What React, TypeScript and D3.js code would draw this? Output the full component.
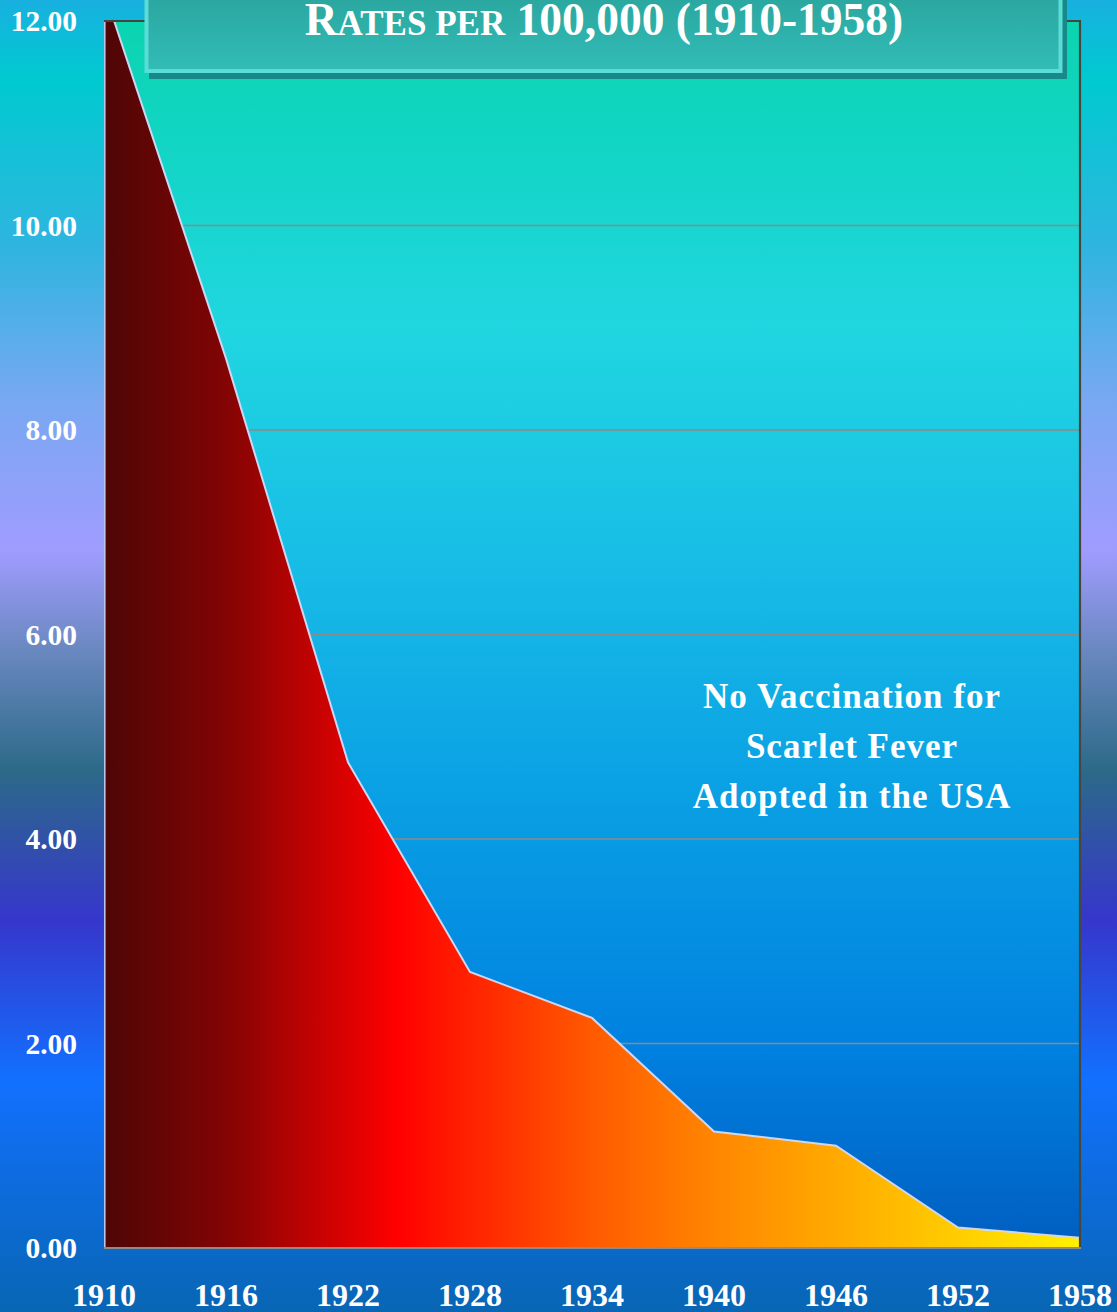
import React from "react";
import * as d3 from "d3";

const years = [1910, 1916, 1922, 1928, 1934, 1940, 1946, 1952, 1958];
const rates = [12.3, 8.7, 4.75, 2.7, 2.25, 1.14, 1.0, 0.2, 0.1];
const yTicks = [0, 2, 4, 6, 8, 10, 12];
const titleParts = ["R", "ATES PER", " 100,000 (1910-1958)"];
const noteLines = ["No Vaccination for", "Scarlet Fever", "Adopted in the USA"];

const W = 1117;
const H = 1312;
const FONT = '"Liberation Serif", "Times New Roman", serif';

export default function App() {
  const left = 104, right = 1080, top = 21, bottom = 1248;
  const x = d3.scaleLinear().domain([1910, 1958]).range([left, right]);
  const y = d3.scaleLinear().domain([0, 12]).range([bottom, top]);
  const data = years.map((yr, i) => ({ yr, v: rates[i] }));
  const area = d3.area<{ yr: number; v: number }>()
    .x((d) => x(d.yr))
    .y0(y(0))
    .y1((d) => y(d.v));
  const line = d3.line<{ yr: number; v: number }>()
    .x((d) => x(d.yr))
    .y((d) => y(d.v));

  return (
    <svg width={W} height={H} style={{ position: "absolute", left: 0, top: 0 }}>
      <defs>
        <linearGradient id="bg" x1="0" y1="0" x2="0" y2={H} gradientUnits="userSpaceOnUse">
          <stop offset={0} stopColor="#18b0e0" />
          <stop offset={80 / H} stopColor="#00cad0" />
          <stop offset={250 / H} stopColor="#30b4e0" />
          <stop offset={400 / H} stopColor="#78a8f2" />
          <stop offset={550 / H} stopColor="#a09cff" />
          <stop offset={650 / H} stopColor="#6a88c0" />
          <stop offset={770 / H} stopColor="#2c6a88" />
          <stop offset={920 / H} stopColor="#3636cc" />
          <stop offset={1080 / H} stopColor="#1270ff" />
          <stop offset={1} stopColor="#0866b4" />
        </linearGradient>
        <linearGradient id="plotbg" x1="0" y1={top} x2="0" y2={bottom} gradientUnits="userSpaceOnUse">
          <stop offset={0} stopColor="#0bd4b0" />
          <stop offset={0.08} stopColor="#10d5c0" />
          <stop offset={0.25} stopColor="#20d6e0" />
          <stop offset={0.44} stopColor="#18bde6" />
          <stop offset={0.63} stopColor="#0aa0e4" />
          <stop offset={0.84} stopColor="#0080e0" />
          <stop offset={1} stopColor="#005ec0" />
        </linearGradient>
        <linearGradient id="areaFill" x1={left} y1="0" x2={right} y2="0" gradientUnits="userSpaceOnUse">
          <stop offset={0} stopColor="#4e0606" />
          <stop offset={0.12} stopColor="#800404" />
          <stop offset={0.3} stopColor="#ff0000" />
          <stop offset={0.5} stopColor="#ff5a00" />
          <stop offset={0.63} stopColor="#ff8800" />
          <stop offset={0.8} stopColor="#ffb800" />
          <stop offset={1} stopColor="#fff000" />
        </linearGradient>
        <linearGradient id="titleFill" x1="0" y1="0" x2="0" y2="1">
          <stop offset={0} stopColor="#2aa69e" />
          <stop offset={1} stopColor="#32bcb8" />
        </linearGradient>
        <clipPath id="plotClip">
          <rect x={left} y={top} width={right - left} height={bottom - top} />
        </clipPath>
      </defs>

      <rect x={0} y={0} width={W} height={H} fill="url(#bg)" />
      <rect x={left} y={top} width={right - left} height={bottom - top} fill="url(#plotbg)" />

      {yTicks.filter((t) => t > 0 && t < 12).map((t) => (
        <line key={t} x1={left} x2={right} y1={y(t)} y2={y(t)} stroke="#8a8a8a" strokeWidth={1.6} />
      ))}

      <g clipPath="url(#plotClip)">
        <path d={area(data) || ""} fill="url(#areaFill)" />
        <path d={line(data) || ""} fill="none" stroke="#cfd6f2" strokeWidth={2} />
        <line x1={left + 0.8} x2={left + 0.8} y1={top} y2={bottom} stroke="#b8c4ea" strokeWidth={1.6} />
      </g>

      {/* plot borders */}
      <line x1={left} x2={right + 1} y1={top} y2={top} stroke="#46463e" strokeWidth={2.2} />
      <line x1={right} x2={right} y1={top} y2={bottom} stroke="#46463e" strokeWidth={2.2} />
      <line x1={left} x2={right + 1} y1={bottom} y2={bottom} stroke="#8c8c8c" strokeWidth={2.2} />

      {/* y tick labels */}
      {yTicks.map((t) => (
        <text key={t} x={77} y={y(t)} dy="0.35em" textAnchor="end" fill="#ffffff"
          fontFamily={FONT} fontWeight="bold" fontSize={29.5}>
          {d3.format(".2f")(t)}
        </text>
      ))}

      {/* x tick labels */}
      {years.map((yr) => (
        <text key={yr} x={x(yr)} y={1306} textAnchor="middle" fill="#ffffff"
          fontFamily={FONT} fontWeight="bold" fontSize={32}>
          {yr}
        </text>
      ))}

      {/* title box */}
      <rect x={149} y={-6} width={918} height={85} fill="#17898a" />
      <rect x={146.5} y={-6} width={914} height={77} fill="url(#titleFill)" stroke="#5cdcd6" strokeWidth={4} />
      <text x={604} y={35} textAnchor="middle" fill="#ffffff" fontFamily={FONT} fontWeight="bold" fontSize={45.5}>
        <tspan>{titleParts[0]}</tspan>
        <tspan fontSize={35}>{titleParts[1]}</tspan>
        <tspan>{titleParts[2]}</tspan>
      </text>

      {/* annotation */}
      {noteLines.map((l, i) => (
        <text key={i} x={852} y={708 + i * 50} textAnchor="middle" fill="#ffffff"
          fontFamily={FONT} fontWeight="bold" fontSize={35} letterSpacing={1}>
          {l}
        </text>
      ))}
    </svg>
  );
}
